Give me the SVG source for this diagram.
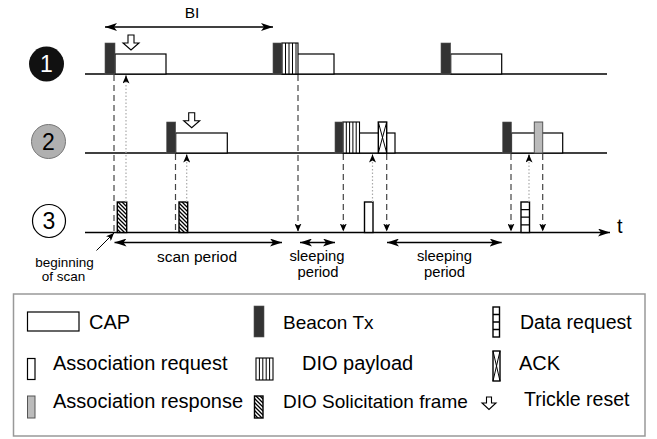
<svg xmlns="http://www.w3.org/2000/svg" width="657" height="439" viewBox="0 0 657 439">
<style>
text{font-family:"Liberation Sans",Arial,sans-serif;fill:#000}
.lbl{font-size:14.8px;text-anchor:middle}
.leg{font-size:20px}
.tl{stroke:#000;stroke-width:1.6;fill:none}
.cap{fill:#fff;stroke:#000;stroke-width:1.2}
.bcn{fill:#333;stroke:#555;stroke-width:0.6}
.box{fill:#fff;stroke:#000;stroke-width:1.4}
.dash{stroke:#444;stroke-width:1.2;stroke-dasharray:6 4;fill:none}
.dot{stroke:#aaa;stroke-width:1.2;stroke-dasharray:1.5 2;fill:none}
.arr{stroke:#000;stroke-width:1.4;fill:none}
.thin{stroke:#000;stroke-width:1;fill:none}
.tr{fill:#fff;stroke:#000;stroke-width:1.1}
</style>
<defs>
<marker id="big" viewBox="0 0 12 8" refX="12" refY="4" markerWidth="12" markerHeight="8" markerUnits="userSpaceOnUse" orient="auto-start-reverse"><path d="M0,0 L12,4 L0,8 L3,4 Z" fill="#000"/></marker>
<marker id="sm" viewBox="0 0 8 7" refX="8" refY="3.5" markerWidth="8" markerHeight="7" markerUnits="userSpaceOnUse" orient="auto"><path d="M0,0 L8,3.5 L0,7 L2,3.5 Z" fill="#000"/></marker>
<pattern id="hatch" patternUnits="userSpaceOnUse" width="4" height="4"><rect width="4" height="4" fill="#fff"/><path d="M-1,-1 L5,5 M-1,3 L1,5 M3,-1 L5,1" stroke="#000" stroke-width="1.3"/></pattern>
</defs>

<g id="node-labels">
<circle cx="46.5" cy="64" r="17.5" fill="#111"/>
<text x="46.5" y="72" font-size="23" text-anchor="middle" style="fill:#fff">1</text>
<circle cx="48.5" cy="141.5" r="17" fill="#b0b0b0" stroke="#777" stroke-width="1"/>
<text x="48.5" y="149.5" font-size="23" text-anchor="middle">2</text>
<circle cx="49" cy="221" r="16.5" fill="#fff" stroke="#000" stroke-width="1.2"/>
<text x="49" y="229" font-size="23" text-anchor="middle">3</text>
</g>

<g id="timelines">
<line class="tl" x1="85" y1="74" x2="607" y2="74"/>
<line class="tl" x1="85" y1="153" x2="607" y2="153"/>
<line class="tl" x1="85" y1="232.5" x2="610" y2="232.5" marker-end="url(#big)"/>
<text x="617" y="233" font-size="20">t</text>
</g>

<g id="node1-frames">
<rect class="cap" x="115" y="54" width="51" height="20"/>
<rect class="bcn" x="105" y="43" width="10" height="31"/>
<rect class="cap" x="282" y="54" width="52" height="20"/>
<rect class="box" x="282" y="43" width="16" height="31" style="stroke-width:1.1"/>
<path class="thin" d="M285.5,43V74M289,43V74M292.5,43V74M296,43V74"/>
<rect class="bcn" x="273" y="43" width="9" height="31"/>
<rect class="cap" x="450.7" y="54" width="51" height="20"/>
<rect class="bcn" x="441" y="43" width="9.7" height="31"/>
<path class="tr" d="M128,35 H134 V43 H139 L131,50 L123,43 H128 Z"/>
</g>

<g id="node2-frames">
<rect class="cap" x="175.7" y="133" width="51.6" height="20"/>
<rect class="bcn" x="166.7" y="122" width="9" height="31"/>
<path class="tr" d="M188.7,112.7 H194.7 V120.7 H199.7 L191.7,127.7 L183.7,120.7 H188.7 Z"/>
<rect class="cap" x="343" y="133" width="52" height="20"/>
<rect class="box" x="343" y="122" width="16.5" height="31" style="stroke-width:1.1"/>
<path class="thin" d="M346.3,122V153M349.6,122V153M352.9,122V153M356.2,122V153"/>
<rect class="bcn" x="335" y="122" width="8" height="31"/>
<rect class="box" x="378.3" y="122" width="8.4" height="31"/>
<path class="thin" d="M378.3,122 L386.7,153 M386.7,122 L378.3,153"/>
<rect class="cap" x="511.5" y="133" width="51.2" height="20"/>
<rect class="bcn" x="502.7" y="122" width="8.8" height="31"/>
<rect x="534.3" y="122" width="8.4" height="31" fill="#bbb" stroke="#555" stroke-width="1"/>
</g>

<g id="node3-frames">
<rect class="box" x="117.3" y="202" width="9.4" height="30.5" style="fill:url(#hatch)"/>
<rect class="box" x="179" y="202" width="8.7" height="30.5" style="fill:url(#hatch)"/>
<rect class="box" x="364.5" y="202" width="8.5" height="30.5"/>
<rect class="box" x="521" y="202" width="8.5" height="30.5"/>
<path class="thin" d="M521,209.6H529.5M521,217.2H529.5M521,224.8H529.5" style="stroke-width:1.3"/>
</g>

<g id="connectors">
<line class="dash" x1="114" y1="75" x2="114" y2="232"/>
<line class="dot" x1="126" y1="202" x2="126" y2="75.5"/>
<line class="thin" x1="126" y1="80" x2="126" y2="75.5" marker-end="url(#sm)"/>
<line class="dash" x1="175.5" y1="154" x2="175.5" y2="232"/>
<line class="dot" x1="186.7" y1="202" x2="186.7" y2="154.5"/>
<line class="thin" x1="186.7" y1="159" x2="186.7" y2="154.5" marker-end="url(#sm)"/>
<line class="dash" x1="298" y1="75" x2="298" y2="231.5" marker-end="url(#sm)"/>
<line class="dash" x1="343.3" y1="154" x2="343.3" y2="231.5" marker-end="url(#sm)"/>
<line class="dot" x1="372.5" y1="202" x2="372.5" y2="154.5"/>
<line class="thin" x1="372.5" y1="159" x2="372.5" y2="154.5" marker-end="url(#sm)"/>
<line class="dash" x1="386.7" y1="154" x2="386.7" y2="231.5" marker-end="url(#sm)"/>
<line class="dash" x1="511" y1="154" x2="511" y2="231.5" marker-end="url(#sm)"/>
<line class="dot" x1="529" y1="202" x2="529" y2="154.5"/>
<line class="thin" x1="529" y1="159" x2="529" y2="154.5" marker-end="url(#sm)"/>
<line class="dash" x1="542.7" y1="154" x2="542.7" y2="231.5" marker-end="url(#sm)"/>
</g>

<g id="annotations">
<line class="arr" x1="105" y1="27" x2="273" y2="27" marker-start="url(#big)" marker-end="url(#big)"/>
<text x="192" y="18" font-size="15.5" text-anchor="middle">BI</text>
<line class="arr" x1="114.5" y1="242.5" x2="282" y2="242.5" marker-start="url(#big)" marker-end="url(#big)"/>
<text class="lbl" x="197" y="262" style="font-size:15.5px">scan period</text>
<line class="arr" x1="300" y1="242.5" x2="335" y2="242.5" marker-start="url(#big)" marker-end="url(#big)"/>
<text class="lbl" x="317" y="260.5">sleeping</text>
<text class="lbl" x="318" y="277">period</text>
<line class="arr" x1="387" y1="242.5" x2="501.7" y2="242.5" marker-start="url(#big)" marker-end="url(#big)"/>
<text class="lbl" x="444.5" y="260.5">sleeping</text>
<text class="lbl" x="444.5" y="277">period</text>
<line class="thin" x1="96.5" y1="250.5" x2="114" y2="233" marker-end="url(#sm)"/>
<text x="64.5" y="267" font-size="13.5" text-anchor="middle">beginning</text>
<text x="63.5" y="281" font-size="13.5" text-anchor="middle">of scan</text>
</g>

<g id="legend">
<rect x="13.5" y="294" width="631.5" height="142" fill="#fff" stroke="#999" stroke-width="1.5"/>
<rect class="cap" x="27.5" y="312" width="51.5" height="19"/>
<text class="leg" x="89" y="329">CAP</text>
<rect class="cap" x="27.5" y="358.5" width="7.5" height="21"/>
<text class="leg" x="53" y="370">Association request</text>
<rect x="27.5" y="396" width="7.5" height="22" fill="#bbb" stroke="#555" stroke-width="1"/>
<text class="leg" x="53" y="408">Association response</text>
<rect class="bcn" x="254" y="306" width="10" height="31"/>
<text class="leg" x="283" y="329" style="font-size:19px">Beacon Tx</text>
<rect class="box" x="256" y="358" width="17" height="22" style="stroke-width:1.1"/>
<path class="thin" d="M259.4,358V380M262.8,358V380M266.2,358V380M269.6,358V380"/>
<text class="leg" x="302" y="370">DIO payload</text>
<rect class="box" x="254.5" y="396" width="8.5" height="22" style="fill:url(#hatch)"/>
<text class="leg" x="283" y="408" style="font-size:19px">DIO Solicitation frame</text>
<rect class="box" x="493" y="307" width="6.5" height="30"/>
<path class="thin" d="M493,314.5H499.5M493,322H499.5M493,329.5H499.5" style="stroke-width:1.3"/>
<text class="leg" x="520" y="329" style="font-size:19.5px">Data request</text>
<rect class="box" x="493" y="351" width="7" height="30"/>
<path class="thin" d="M493,351 L500,381 M500,351 L493,381"/>
<text class="leg" x="519" y="370">ACK</text>
<path class="tr" d="M486.5,397 H491.5 V403 H496 L489,409.5 L482,403 H486.5 Z"/>
<text class="leg" x="524" y="406" style="font-size:19.5px">Trickle reset</text>
</g>
</svg>
